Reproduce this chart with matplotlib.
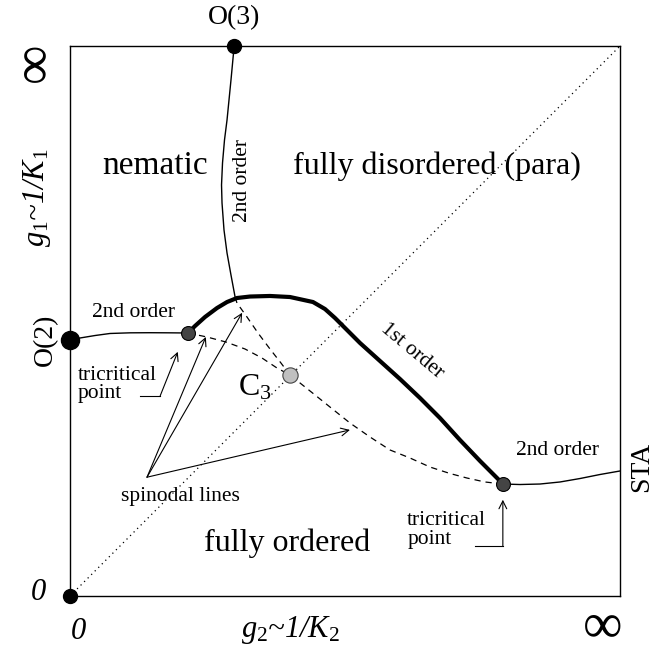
import numpy as np
import matplotlib.pyplot as plt

plt.rcParams['font.family'] = ['Liberation Serif', 'DejaVu Serif']
plt.rcParams['mathtext.fontset'] = 'custom'
plt.rcParams['mathtext.rm'] = 'Liberation Serif'
plt.rcParams['mathtext.it'] = 'Liberation Serif:italic'

# special points (g2, g1), axes compactified to [0, 1] with 1 = infinity
o3 = (0.298, 1.0)
o2 = (0.0, 0.465)
origin = (0.0, 0.0)
tcp_left = (0.2145, 0.4782)
tcp_right = (0.7873, 0.2036)
c3 = (0.40, 0.4018)

# O(3) -> junction, 2nd order line
o3_x = [0.2982, 0.2973, 0.2927, 0.2855, 0.2809, 0.2773, 0.2755, 0.2764, 0.2800, 0.2855, 0.2927, 0.3000]
o3_y = [1.0000, 0.9873, 0.9382, 0.8655, 0.8291, 0.7873, 0.7473, 0.7145, 0.6655, 0.6236, 0.5836, 0.5445]

# O(2) -> left tricritical point, 2nd order
o2_x = [0.0, 0.0182, 0.0455, 0.0727, 0.1091, 0.1455, 0.1818, 0.2145]
o2_y = [0.4655, 0.4691, 0.4736, 0.4773, 0.4785, 0.4787, 0.4785, 0.4782]

# 1st order line (thick)
first_x = [0.2145, 0.2273, 0.2455, 0.2673, 0.2855, 0.3036, 0.3273, 0.3636, 0.4000, 0.4418, 0.4636,
           0.4818, 0.5055, 0.5273, 0.5636, 0.6000, 0.6364, 0.6727, 0.7091, 0.7455, 0.7873]
first_y = [0.4782, 0.4909, 0.5073, 0.5236, 0.5345, 0.5418, 0.5445, 0.5455, 0.5436, 0.5345, 0.5218,
           0.5055, 0.4818, 0.4600, 0.4273, 0.3945, 0.3600, 0.3236, 0.2836, 0.2455, 0.2036]

# right tricritical point -> STA, 2nd order
sta_x = [0.7873, 0.8182, 0.8545, 0.8909, 0.9273, 0.9636, 1.0]
sta_y = [0.2036, 0.2027, 0.2036, 0.2073, 0.2136, 0.2209, 0.2273]

# spinodal lines (dashed)
spinA_x = [0.2145, 0.2491, 0.2836, 0.3182, 0.3491, 0.3764, 0.4000, 0.4182, 0.4455, 0.4727, 0.5091,
           0.5455, 0.5818, 0.6182, 0.6545, 0.6909, 0.7218, 0.7545, 0.7873]
spinA_y = [0.4782, 0.4709, 0.4618, 0.4491, 0.4327, 0.4145, 0.4018, 0.3873, 0.3655, 0.3436, 0.3145,
           0.2891, 0.2655, 0.2509, 0.2345, 0.2227, 0.2145, 0.2073, 0.2036]
spinB_x = [0.3000, 0.3036, 0.3218, 0.3418, 0.3636, 0.3836, 0.4000]
spinB_y = [0.5436, 0.5327, 0.5073, 0.4782, 0.4491, 0.4236, 0.4018]

spin_src = (0.14, 0.216)
spin_tips = [(0.247, 0.471), (0.313, 0.515), (0.509, 0.302)]

fig = plt.figure(figsize=(6.57, 6.57), dpi=100)
ax = fig.add_axes([70/657, 61/657, 550/657, 550/657])
ax.set_xlim(0, 1)
ax.set_ylim(0, 1)
ax.set_xticks([])
ax.set_yticks([])
for s in ax.spines.values():
    s.set_linewidth(1.0)

# diagonal
ax.plot([0, 1], [0, 1], color='k', lw=0.9, ls=(0, (1, 3)))

ax.plot(o3_x, o3_y, color='k', lw=1.0)
ax.plot(o2_x, o2_y, color='k', lw=1.0)
ax.plot(sta_x, sta_y, color='k', lw=1.0)
ax.plot(spinA_x, spinA_y, color='k', lw=0.9, ls=(0, (5, 4)))
ax.plot(spinB_x, spinB_y, color='k', lw=0.9, ls=(0, (5, 4)))
ax.plot(first_x, first_y, color='k', lw=3.0, solid_capstyle='round', solid_joinstyle='round')

# points
ax.plot(*o3, 'o', color='k', ms=10, clip_on=False, zorder=5)
ax.plot(*o2, 'o', color='k', ms=13, clip_on=False, zorder=5)
ax.plot(*origin, 'o', color='k', ms=10, clip_on=False, zorder=5)
ax.plot(*tcp_left, 'o', color='#444444', mec='k', mew=0.8, ms=10, zorder=5)
ax.plot(*tcp_right, 'o', color='#444444', mec='k', mew=0.8, ms=10, zorder=5)
ax.plot(*c3, 'o', color='#c0c0c0', mec='#444444', mew=0.8, ms=11, zorder=5)

arr = dict(arrowstyle='->', lw=0.8, color='k', shrinkA=0, shrinkB=0, mutation_scale=14)
for tip in spin_tips:
    ax.annotate('', xy=tip, xytext=spin_src, arrowprops=arr)

# tricritical arrows
ax.plot([0.127, 0.164], [0.364, 0.364], color='k', lw=0.8)
ax.annotate('', xy=(0.196, 0.444), xytext=(0.164, 0.364), arrowprops=arr)
ax.plot([0.736, 0.787], [0.091, 0.091], color='k', lw=0.8)
ax.annotate('', xy=(0.787, 0.175), xytext=(0.787, 0.091), arrowprops=arr)

# region labels
ax.text(0.155, 0.782, 'nematic', fontsize=24, ha='center', va='center')
ax.text(0.667, 0.782, 'fully disordered (para)', fontsize=23, ha='center', va='center')
ax.text(0.395, 0.096, 'fully ordered', fontsize=23, ha='center', va='center')

ax.text(0.115, 0.515, '2nd order', fontsize=15.5, ha='center', va='center')
ax.text(0.313, 0.755, '2nd order', fontsize=15.5, ha='center', va='center', rotation=90)
ax.text(0.887, 0.265, '2nd order', fontsize=15.5, ha='center', va='center')
ax.text(0.622, 0.445, '1st order', fontsize=15.5, ha='center', va='center', rotation=-40)
ax.text(0.0145, 0.385, 'tricritical\npoint', fontsize=15.5, ha='left', va='center', linespacing=0.95)
ax.text(0.613, 0.12, 'tricritical\npoint', fontsize=15.5, ha='left', va='center', linespacing=0.95)
ax.text(0.20, 0.18, 'spinodal lines', fontsize=15.5, ha='center', va='center')
ax.text(0.336, 0.378, r'C$_{\mathit{3}}$', fontsize=23, ha='center', va='center')

# outside labels
ax.text(o3[0], 1.051, 'O(3)', fontsize=20, ha='center', va='center', clip_on=False)
ax.text(-0.045, o2[1], 'O(2)', fontsize=20, ha='center', va='center', rotation=90, clip_on=False)
ax.text(1.04, 0.235, 'STA', fontsize=20, ha='center', va='center', rotation=90, clip_on=False)
ax.text(-0.064, 0.971, '\u221e', fontsize=40, ha='center', va='center', rotation=90, clip_on=False)
ax.text(0.969, -0.056, '\u221e', fontsize=40, ha='center', va='center', clip_on=False)
ax.text(-0.058, 0.007, '0', fontsize=22, ha='center', va='center', style='italic', clip_on=False)
ax.text(0.016, -0.064, '0', fontsize=22, ha='center', va='center', style='italic', clip_on=False)
ax.text(0.40, -0.062, r'$g_\mathit{2}$~1/$K_\mathit{2}$', fontsize=22, ha='center', va='center',
        style='italic', clip_on=False)
ax.text(-0.06, 0.724, r'$g_\mathit{1}$~1/$K_\mathit{1}$', fontsize=22, ha='center', va='center',
        style='italic', rotation=90, clip_on=False)

fig.savefig('out.png', dpi=100)
